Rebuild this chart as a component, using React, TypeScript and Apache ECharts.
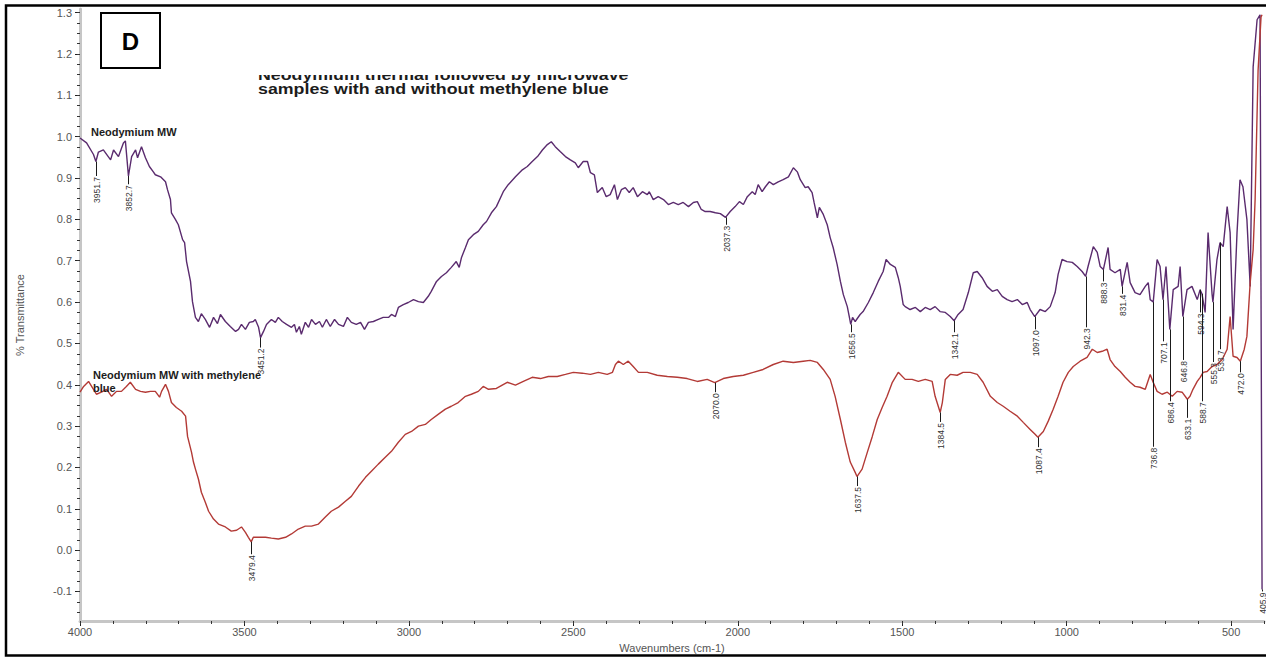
import { useEffect, useRef } from "react";
import * as echarts from "echarts";

const FONT = '"Liberation Sans", Arial, Helvetica, sans-serif';

// Neodymium MW trace: [wavenumber (cm-1), transmittance]
const ND_MW: [number, number][] = [
  [4000, 0.997], [3980, 0.985], [3959, 0.957], [3951.7, 0.94], [3944, 0.963], [3929, 0.968], [3907, 0.944],
  [3898, 0.968], [3883, 0.952], [3868, 0.985], [3862, 0.99], [3852.7, 0.905], [3843, 0.952], [3831, 0.968],
  [3825, 0.949], [3813, 0.976], [3801, 0.949], [3789, 0.928], [3777, 0.915], [3771, 0.908], [3755, 0.903],
  [3740, 0.891], [3734, 0.872], [3725, 0.848], [3722, 0.816], [3710, 0.8], [3701, 0.787], [3688, 0.751],
  [3682, 0.744], [3676, 0.698], [3664, 0.65], [3658, 0.601], [3649, 0.563], [3640, 0.553], [3631, 0.572],
  [3619, 0.558], [3606, 0.539], [3594, 0.563], [3582, 0.548], [3573, 0.57], [3558, 0.553], [3543, 0.541],
  [3527, 0.529], [3518, 0.534], [3509, 0.546], [3497, 0.534], [3485, 0.551], [3473, 0.553], [3467, 0.558],
  [3457, 0.539], [3451.2, 0.514], [3442, 0.529], [3433, 0.546], [3418, 0.558], [3406, 0.551], [3397, 0.563],
  [3385, 0.553], [3372, 0.546], [3357, 0.539], [3348, 0.546], [3342, 0.527], [3333, 0.541], [3327, 0.522],
  [3315, 0.551], [3305, 0.539], [3296, 0.558], [3284, 0.546], [3272, 0.553], [3263, 0.539], [3251, 0.558],
  [3239, 0.541], [3226, 0.558], [3214, 0.546], [3199, 0.541], [3187, 0.563], [3175, 0.551], [3160, 0.546],
  [3147, 0.551], [3135, 0.534], [3123, 0.551], [3108, 0.553], [3093, 0.558], [3078, 0.563], [3062, 0.563],
  [3053, 0.57], [3041, 0.565], [3032, 0.587], [3017, 0.594], [3002, 0.599], [2986, 0.606], [2971, 0.601],
  [2956, 0.599], [2941, 0.614], [2932, 0.626], [2916, 0.65], [2901, 0.662], [2886, 0.671], [2871, 0.684],
  [2856, 0.698], [2847, 0.684], [2840, 0.708], [2828, 0.732], [2819, 0.751], [2804, 0.763], [2789, 0.771],
  [2774, 0.787], [2764, 0.795], [2749, 0.816], [2734, 0.831], [2713, 0.867], [2698, 0.884], [2676, 0.903],
  [2655, 0.92], [2640, 0.928], [2625, 0.94], [2609, 0.952], [2594, 0.968], [2579, 0.981], [2567, 0.988],
  [2555, 0.976], [2540, 0.964], [2524, 0.952], [2509, 0.944], [2494, 0.937], [2485, 0.925], [2470, 0.94],
  [2457, 0.94], [2448, 0.913], [2436, 0.908], [2427, 0.865], [2412, 0.877], [2400, 0.855], [2388, 0.86],
  [2375, 0.884], [2366, 0.848], [2354, 0.872], [2342, 0.877], [2330, 0.865], [2318, 0.877], [2305, 0.855],
  [2290, 0.867], [2275, 0.86], [2269, 0.867], [2257, 0.848], [2242, 0.855], [2226, 0.848], [2211, 0.836],
  [2196, 0.841], [2181, 0.836], [2166, 0.841], [2150, 0.831], [2135, 0.841], [2123, 0.843], [2111, 0.824],
  [2099, 0.819], [2084, 0.819], [2068, 0.816], [2053, 0.814], [2037.3, 0.805], [2023, 0.819], [2008, 0.831],
  [1995, 0.843], [1983, 0.836], [1971, 0.855], [1956, 0.867], [1947, 0.86], [1938, 0.884], [1926, 0.867],
  [1916, 0.879], [1904, 0.891], [1892, 0.884], [1877, 0.891], [1862, 0.896], [1846, 0.903], [1831, 0.925],
  [1819, 0.915], [1810, 0.896], [1795, 0.877], [1786, 0.879], [1774, 0.865], [1768, 0.841], [1758, 0.804],
  [1752, 0.829], [1740, 0.812], [1728, 0.787], [1719, 0.756], [1710, 0.732], [1698, 0.691], [1688, 0.65],
  [1679, 0.618], [1667, 0.589], [1661, 0.565], [1656.5, 0.546], [1651, 0.563], [1643, 0.553], [1628, 0.57],
  [1619, 0.577], [1603, 0.599], [1588, 0.623], [1573, 0.65], [1558, 0.674], [1549, 0.703], [1536, 0.691],
  [1521, 0.684], [1512, 0.659], [1506, 0.638], [1497, 0.594], [1491, 0.589], [1476, 0.582], [1460, 0.587],
  [1445, 0.577], [1430, 0.587], [1415, 0.582], [1400, 0.589], [1385, 0.577], [1369, 0.575], [1354, 0.565],
  [1342.1, 0.555], [1330, 0.57], [1315, 0.582], [1299, 0.623], [1284, 0.671], [1272, 0.674], [1257, 0.659],
  [1242, 0.638], [1226, 0.626], [1211, 0.63], [1196, 0.614], [1181, 0.606], [1166, 0.601], [1150, 0.606],
  [1135, 0.594], [1120, 0.599], [1111, 0.582], [1097, 0.565], [1081, 0.582], [1065, 0.577], [1050, 0.589],
  [1035, 0.623], [1026, 0.667], [1014, 0.703], [999, 0.698], [983, 0.696], [968, 0.686], [953, 0.674],
  [942.3, 0.662], [935, 0.686], [919, 0.734], [907, 0.72], [898, 0.686], [888.3, 0.679], [874, 0.732],
  [868, 0.679], [853, 0.671], [837, 0.679], [831.4, 0.638], [816, 0.696], [807, 0.647], [792, 0.623],
  [777, 0.618], [761, 0.638], [752, 0.647], [746, 0.606], [736.8, 0.6], [725, 0.703], [716, 0.686],
  [707.1, 0.606], [698, 0.686], [686.4, 0.534], [676, 0.63], [661, 0.638], [655, 0.686], [646.8, 0.565],
  [634, 0.63], [619, 0.638], [603, 0.606], [594.3, 0.63], [588.7, 0.62], [579, 0.575], [570, 0.768],
  [558, 0.62], [555.3, 0.6], [543, 0.703], [533.7, 0.744], [524, 0.734], [512, 0.831], [503, 0.768],
  [494, 0.534], [482, 0.768], [473, 0.896], [464, 0.879], [452, 0.8], [442, 0.638], [433, 1.169],
  [421, 1.283], [412, 1.295], [405.9, -0.095],
];

// Neodymium MW with methylene blue trace: [wavenumber (cm-1), transmittance]
const ND_MW_MB: [number, number][] = [
  [4000, 0.382], [3989, 0.396], [3974, 0.408], [3959, 0.389], [3950, 0.377], [3935, 0.382], [3919, 0.389],
  [3904, 0.372], [3889, 0.384], [3874, 0.384], [3859, 0.396], [3847, 0.406], [3831, 0.389], [3816, 0.384],
  [3801, 0.382], [3786, 0.384], [3771, 0.384], [3758, 0.37], [3752, 0.384], [3740, 0.401], [3731, 0.384],
  [3722, 0.357], [3707, 0.345], [3691, 0.336], [3679, 0.324], [3673, 0.275], [3661, 0.237], [3655, 0.213],
  [3649, 0.196], [3640, 0.172], [3631, 0.14], [3619, 0.116], [3609, 0.094], [3594, 0.075], [3579, 0.063],
  [3558, 0.056], [3540, 0.046], [3524, 0.048], [3509, 0.056], [3497, 0.043], [3488, 0.031], [3479.4, 0.02],
  [3473, 0.031], [3457, 0.031], [3436, 0.031], [3418, 0.029], [3397, 0.027], [3375, 0.031], [3357, 0.039],
  [3336, 0.051], [3315, 0.058], [3296, 0.058], [3275, 0.063], [3254, 0.08], [3236, 0.094], [3214, 0.104],
  [3193, 0.118], [3175, 0.13], [3153, 0.155], [3132, 0.176], [3114, 0.191], [3093, 0.208], [3071, 0.225],
  [3053, 0.239], [3032, 0.261], [3011, 0.28], [2992, 0.287], [2971, 0.3], [2950, 0.304], [2932, 0.316],
  [2910, 0.329], [2889, 0.341], [2871, 0.348], [2850, 0.357], [2828, 0.372], [2810, 0.377], [2789, 0.384],
  [2774, 0.396], [2758, 0.389], [2734, 0.391], [2701, 0.406], [2676, 0.399], [2652, 0.408], [2625, 0.418],
  [2600, 0.415], [2576, 0.42], [2549, 0.42], [2524, 0.425], [2500, 0.43], [2473, 0.428], [2448, 0.425],
  [2424, 0.43], [2397, 0.425], [2381, 0.43], [2372, 0.449], [2363, 0.457], [2348, 0.449], [2333, 0.457],
  [2318, 0.444], [2302, 0.43], [2275, 0.43], [2245, 0.423], [2214, 0.42], [2184, 0.418], [2154, 0.415],
  [2123, 0.408], [2093, 0.413], [2070, 0.405], [2044, 0.415], [2014, 0.42], [1983, 0.423], [1953, 0.43],
  [1923, 0.437], [1892, 0.449], [1862, 0.457], [1831, 0.454], [1801, 0.457], [1780, 0.459], [1758, 0.454],
  [1740, 0.437], [1719, 0.413], [1704, 0.372], [1688, 0.316], [1673, 0.261], [1658, 0.213], [1643, 0.188],
  [1637.5, 0.178], [1622, 0.196], [1606, 0.237], [1591, 0.275], [1576, 0.316], [1561, 0.345], [1546, 0.372],
  [1530, 0.406], [1512, 0.43], [1491, 0.413], [1470, 0.413], [1451, 0.408], [1430, 0.413], [1409, 0.408],
  [1400, 0.372], [1384.5, 0.333], [1378, 0.357], [1369, 0.413], [1354, 0.425], [1333, 0.423], [1315, 0.43],
  [1293, 0.43], [1272, 0.425], [1254, 0.406], [1232, 0.372], [1211, 0.357], [1193, 0.348], [1172, 0.336],
  [1150, 0.324], [1132, 0.309], [1111, 0.292], [1096, 0.28], [1087.4, 0.273], [1071, 0.287], [1056, 0.312],
  [1041, 0.341], [1026, 0.372], [1011, 0.406], [995, 0.43], [980, 0.444], [959, 0.457], [938, 0.466],
  [922, 0.486], [907, 0.478], [892, 0.481], [877, 0.486], [868, 0.461], [853, 0.444], [837, 0.432],
  [822, 0.418], [807, 0.406], [792, 0.396], [777, 0.394], [761, 0.389], [746, 0.425], [737, 0.406],
  [725, 0.384], [710, 0.377], [694, 0.382], [679, 0.372], [664, 0.384], [649, 0.382], [633.1, 0.365],
  [625, 0.372], [616, 0.389], [603, 0.408], [594, 0.418], [585, 0.43], [573, 0.432], [558, 0.444],
  [543, 0.449], [527, 0.461], [512, 0.486], [503, 0.565], [494, 0.469], [482, 0.466], [472, 0.457],
  [460, 0.486], [452, 0.517], [442, 0.647], [433, 0.727], [427, 0.848], [418, 1.16], [409, 1.29],
  [405.9, 1.295],
];

// Peak annotations: [peak wavenumber, transmittance where the label begins]
const ND_MW_PEAKS: [number, number][] = [
  [3951.7, 0.905], [3852.7, 0.885], [3451.2, 0.49], [2037.3, 0.787], [1656.5, 0.527], [1342.1, 0.527],
  [1097, 0.534], [942.3, 0.539], [888.3, 0.65], [831.4, 0.62], [736.8, 0.25], [707.1, 0.505],
  [686.4, 0.36], [646.8, 0.46], [594.3, 0.575], [588.7, 0.36], [555.3, 0.455], [533.7, 0.486],
  [405.9, -0.1],
];
const ND_MW_MB_PEAKS: [number, number][] = [
  [3479.4, -0.01], [2070, 0.382], [1637.5, 0.155], [1384.5, 0.31], [1087.4, 0.249], [633.1, 0.32],
  [472, 0.43],
];

const X_TICKS = [4000, 3500, 3000, 2500, 2000, 1500, 1000, 500];
const Y_TICKS = [-0.1, 0, 0.1, 0.2, 0.3, 0.4, 0.5, 0.6, 0.7, 0.8, 0.9, 1.0, 1.1, 1.2, 1.3];

const X_MIN = 400;
const X_MAX = 4000;
const Y_MIN = -0.1715;
const Y_MAX = 1.309;

const SERIES_NAMES = ["Neodymium MW", "Neodymium MW with methylene blue"];
const TITLE_LINES = ["Neodymium thermal followed by microwave", "samples with and without methylene blue"];
const PANEL_TAG = "D";

const PURPLE = "#5a2b6e";
const RED = "#b33a36";

// minor tick positions: every 100 cm-1 and every 0.025 transmittance units
const X_MINOR: number[] = [];
for (let w = 400; w <= 4000; w += 100) X_MINOR.push(w);
const Y_MINOR: number[] = [];
for (let i = -6; i <= 52; i++) Y_MINOR.push(i / 40);

function peakRows(peaks: [number, number][], trace: [number, number][]) {
  return peaks.map(([w, labelAt]) => {
    const hit = trace.find((p) => p[0] === w);
    return [w, hit ? hit[1] : labelAt, labelAt];
  });
}

function peakSeries(peaks: [number, number][], trace: [number, number][]) {
  const rows = peakRows(peaks, trace);
  return {
    type: "custom",
    silent: true,
    z: 5,
    data: rows,
    renderItem: (params: any, api: any) => {
      const row = rows[params.dataIndex];
      const a = api.coord([row[0], row[1]]);
      const b = api.coord([row[0], row[2]]);
      const x = Math.round(a[0]) + 0.5;
      return {
        type: "group",
        children: [
          {
            type: "line",
            shape: { x1: x, y1: a[1], x2: x, y2: b[1] },
            style: { stroke: "#1a1a1a", lineWidth: 1 },
          },
          {
            type: "text",
            x: x,
            y: b[1] + 1,
            rotation: Math.PI / 2,
            style: {
              text: row[0].toFixed(1),
              fill: "#333",
              font: `8.5px ${FONT}`,
              align: "right",
              verticalAlign: "middle",
            },
          },
        ],
      };
    },
  };
}

export default function App() {
  const ref = useRef<HTMLDivElement>(null);

  useEffect(() => {
    if (!ref.current) return;
    const chart = echarts.init(ref.current, null, { renderer: "svg" });

    const option: any = {
      animation: false,
      backgroundColor: "#ffffff",
      grid: { left: 80, right: 2, top: 9, bottom: 36, containLabel: false },
      xAxis: [
        {
          type: "value",
          min: X_MIN,
          max: X_MAX,
          inverse: true,
          position: "bottom",
          name: "Wavenumbers (cm-1)",
          nameLocation: "middle",
          nameGap: 21,
          nameTextStyle: { color: "#555", fontSize: 11, fontFamily: FONT },
          axisLine: { onZero: false, lineStyle: { color: "#c6c6c6", width: 3 } },
          axisTick: { customValues: X_TICKS, length: 5, lineStyle: { color: "#222", width: 1 } },
          axisLabel: {
            customValues: X_TICKS,
            color: "#555",
            fontSize: 11,
            margin: 5,
            fontFamily: FONT,
            formatter: (v: number) => String(v),
          },
          splitLine: { show: false },
        },
        {
          type: "value",
          min: X_MIN,
          max: X_MAX,
          inverse: true,
          position: "bottom",
          axisLine: { show: false, onZero: false },
          axisTick: { customValues: X_MINOR, length: 3, lineStyle: { color: "#333", width: 1 } },
          axisLabel: { show: false },
          splitLine: { show: false },
        },
      ],
      yAxis: [
        {
          type: "value",
          min: Y_MIN,
          max: Y_MAX,
          position: "left",
          name: "% Transmittance",
          nameLocation: "middle",
          nameRotate: 90,
          nameGap: 55,
          nameTextStyle: { color: "#555", fontSize: 11, fontFamily: FONT },
          axisLine: { onZero: false, lineStyle: { color: "#c6c6c6", width: 3 } },
          axisTick: { customValues: Y_TICKS, length: 5, lineStyle: { color: "#222", width: 1 } },
          axisLabel: {
            customValues: Y_TICKS,
            color: "#555",
            fontSize: 11,
            margin: 8,
            fontFamily: FONT,
            formatter: (v: number) => v.toFixed(1),
          },
          splitLine: { show: false },
        },
        {
          type: "value",
          min: Y_MIN,
          max: Y_MAX,
          position: "left",
          axisLine: { show: false, onZero: false },
          axisTick: { customValues: Y_MINOR, length: 3, lineStyle: { color: "#333", width: 1 } },
          axisLabel: { show: false },
          splitLine: { show: false },
        },
      ],
      series: [
        {
          name: SERIES_NAMES[0],
          type: "line",
          data: ND_MW,
          showSymbol: false,
          symbol: "none",
          lineStyle: { color: PURPLE, width: 1.4 },
          z: 3,
        },
        {
          name: SERIES_NAMES[1],
          type: "line",
          data: ND_MW_MB,
          showSymbol: false,
          symbol: "none",
          lineStyle: { color: RED, width: 1.4 },
          z: 4,
        },
        peakSeries(ND_MW_PEAKS, ND_MW),
        peakSeries(ND_MW_MB_PEAKS, ND_MW_MB),
      ],
      graphic: [
        {
          type: "polyline",
          shape: { points: [[1266, 5.5], [6, 5.5], [6, 655.5], [1266, 655.5]] },
          style: { stroke: "#000", lineWidth: 2.5, fill: null },
          z: 20,
        },
        {
          type: "rect",
          shape: { x: 101, y: 13, width: 59, height: 55 },
          style: { fill: "#fff", stroke: "#000", lineWidth: 2 },
          z: 20,
        },
        {
          type: "text",
          x: 130.5,
          y: 41.5,
          style: { text: PANEL_TAG, font: `bold 24px ${FONT}`, fill: "#000", align: "center", verticalAlign: "middle" },
          z: 21,
        },
        {
          type: "text",
          x: 258,
          y: 75,
          scaleX: 1.27,
          style: { text: TITLE_LINES[0], font: `bold 14px ${FONT}`, fill: "#1c1c1c", align: "left", verticalAlign: "middle" },
          z: 20,
        },
        {
          type: "text",
          x: 258,
          y: 89,
          scaleX: 1.27,
          style: { text: TITLE_LINES[1], font: `bold 14px ${FONT}`, fill: "#1c1c1c", align: "left", verticalAlign: "middle" },
          z: 20,
        },
        {
          // the heading's first line sits partly under the plot panel edge
          type: "rect",
          shape: { x: 250, y: 50, width: 440, height: 25 },
          style: { fill: "#fff" },
          z: 21,
        },
        {
          type: "text",
          x: 91,
          y: 132,
          style: { text: SERIES_NAMES[0], font: `bold 11px ${FONT}`, fill: "#1c1c1c", align: "left", verticalAlign: "middle" },
          z: 20,
        },
        {
          type: "text",
          x: 93,
          y: 368,
          style: {
            text: "Neodymium MW with methylene\nblue",
            font: `bold 11px ${FONT}`,
            lineHeight: 13,
            fill: "#1c1c1c",
            align: "left",
            verticalAlign: "top",
          },
          z: 20,
        },
      ],
    };

    chart.setOption(option);
    return () => chart.dispose();
  }, []);

  return (
    <div
      ref={ref}
      style={{ position: "absolute", left: 0, top: 0, width: 1266, height: 658, background: "#fff" }}
    />
  );
}
